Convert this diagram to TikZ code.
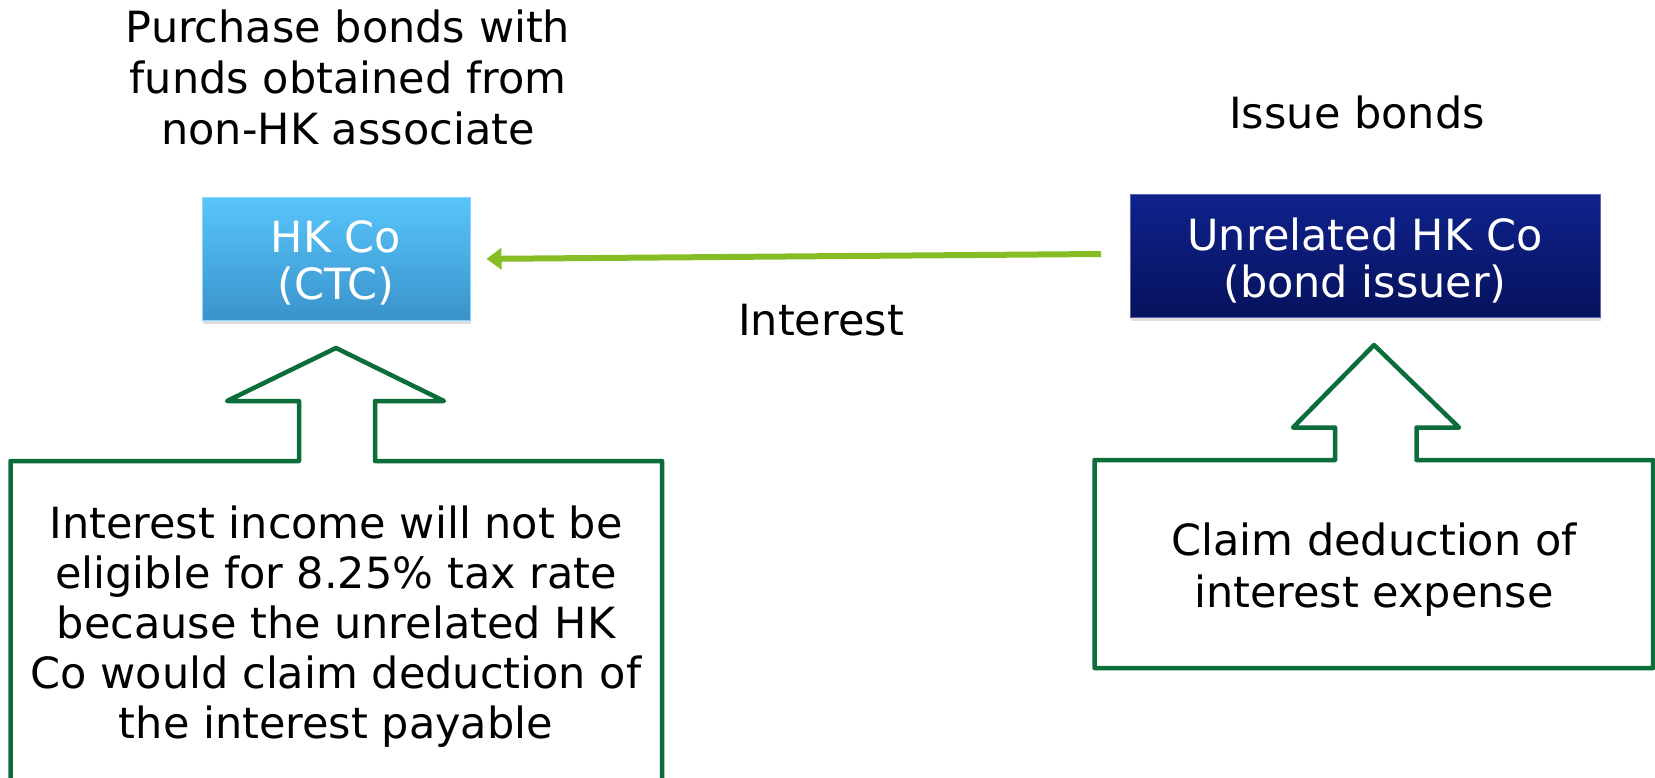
\documentclass[tikz,border=0pt]{standalone}
\usepackage{fontspec}
\setmainfont{DejaVu Sans}
\usetikzlibrary{arrows.meta,shadows}

\definecolor{calloutgreen}{HTML}{0B6E3A}
\definecolor{arrowgreen}{HTML}{86BD25}
\definecolor{skytop}{HTML}{58C5FB}
\definecolor{skybot}{HTML}{3A93CB}
\definecolor{navytop}{HTML}{0F228C}
\definecolor{navybot}{HTML}{06125C}

\begin{document}
\begin{tikzpicture}[x=1pt,y=-1pt,
  every node/.style={font=\fontsize{43}{50}\selectfont, align=center, inner sep=0pt},
  entity/.style={minimum height=122pt, line width=1pt,
    drop shadow={opacity=0.25, shadow xshift=1pt, shadow yshift=-4pt}},
  skybox/.style={entity, top color=skytop, bottom color=skybot, draw=skytop!70!white},
  navybox/.style={entity, top color=navytop, bottom color=navybot, draw=navytop!70!white},
  boxtext/.style={text=white, font=\fontsize{43}{47}\selectfont},
  flow/.style={draw=arrowgreen, line width=6pt, shorten >=16pt,
    -{Triangle[length=15pt,width=21pt]}},
  callout/.style={draw=calloutgreen, line width=4.5pt, line join=round}
]
\useasboundingbox (0,0) rectangle (1655,778);
\clip (0,0) rectangle (1655,778);
\fill[white] (0,0) rectangle (1655,778);

% headings above the two companies
\node[font=\fontsize{43}{51}\selectfont] (buytxt) at (348,77) {Purchase bonds with\\funds obtained from\\non-HK associate};
\node (issuetxt) at (1357,112) {Issue bonds};

% the two companies
\node[skybox, minimum width=268pt] (hk) at (336,259) {};
\node[boxtext] (hklbl) at ([yshift=-4pt]hk.center) {HK Co\\(CTC)};
\node[navybox, minimum width=470pt] (unrel) at (1365,256) {};
\node[boxtext] (unrellbl) at ([yshift=-4pt]unrel.center) {Unrelated HK Co\\(bond issuer)};

% interest flow
\coordinate (intstart) at (1101,254);
\draw[flow] (intstart) -- (hk.east);
\node (inttxt) at (821,320) {Interest};

% left up-arrow callout
\draw[callout] (10.5,790) -- (10.5,461) -- (299,461) -- (299,401) -- (227,401)
  -- (336,348) -- (444,401) -- (375,401) -- (375,461) -- (662,461) -- (662,790);
\node (lefttxt) at (336,627) {Interest income will not be\\eligible for 8.25\% tax rate\\because the unrelated HK\\Co would claim deduction of\\the interest payable};

% right up-arrow callout
\draw[callout] (1094.5,668) -- (1094.5,460) -- (1335,460) -- (1335,427.5) -- (1293,427.5)
  -- (1374,345) -- (1459,427.5) -- (1416.5,427.5) -- (1416.5,460) -- (1653,460)
  -- (1653,668) -- cycle;
\node[font=\fontsize{43}{52}\selectfont] (righttxt) at (1374,570) {Claim deduction of\\interest expense};
\end{tikzpicture}
\end{document}
